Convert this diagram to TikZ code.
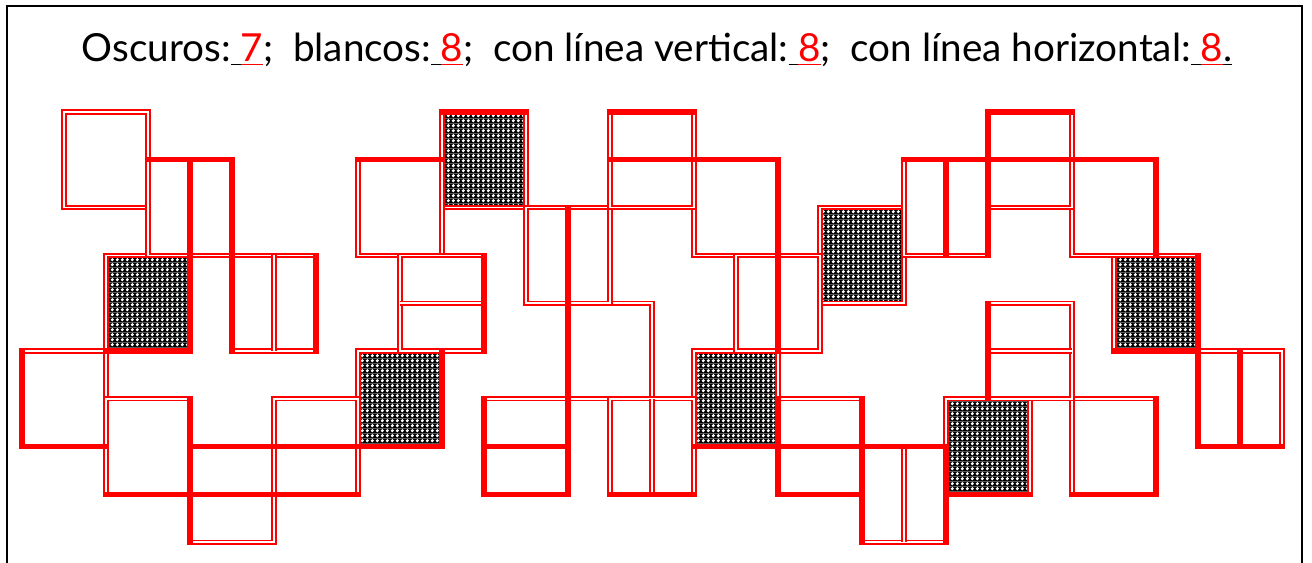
\documentclass[tikz,border=0pt]{standalone}
\usepackage{fontspec}
\setmainfont{Lato}
\usetikzlibrary{patterns.meta}
\newcommand{\resp}[1]{\underline{\ }\textcolor{red}{\underline{#1}}}
\tikzdeclarepattern{
  name=darkdots, type=colored,
  bottom left={(0pt,0pt)}, top right={(3.6pt,3.6pt)}, tile size={(3.6pt,3.6pt)},
  code={\fill[black] (0pt,0pt) rectangle (3.6pt,3.6pt); \fill[white] (1.8pt,1.8pt) circle (1.3pt);}
}
\tikzset{
  split/.style={draw=red, double=white, line width=1.35pt, double distance=1.1pt},
  tile/.style={split, rectangle, minimum width=63pt, minimum height=71.7pt,
               inner sep=0pt, outer sep=0pt},
  dark/.style={tile, pattern=darkdots},
  heavy/.style={draw=red, line width=3.8pt, line cap=rect},
  frame/.style={draw=black, line width=1.9pt},
}
\begin{document}
\begin{tikzpicture}[x=31.5pt, y=-35.85pt]
  \useasboundingbox[fill=white] (-0.5238,-2.3431) rectangle (30.7143,9.4351);
  \draw[frame] (-0.357,9.6) -- (-0.357,-2.218) -- (30.476,-2.218) -- (30.476,9.6);
  \node[font=\fontsize{29}{35}\selectfont, anchor=base] (title) at (15.12,-1.046)
    {Oscuros:\resp{7};\ \ blancos:\resp{8};\ \ con línea vertical:\resp{8};\ \ con línea horizontal:\resp{8}\underline{.}};
  % oscuros
  \node[dark] (o1) at (3,4) {};
  \node[dark] (o2) at (9,6) {};
  \node[dark] (o3) at (11,1) {};
  \node[dark] (o4) at (17,6) {};
  \node[dark] (o5) at (20,3) {};
  \node[dark] (o6) at (27,4) {};
  \node[dark] (o7) at (23,7) {};
  % blancos
  \node[tile] (b1) at (2,1) {};
  \node[tile] (b2) at (1,6) {};
  \node[tile] (b3) at (3,7) {};
  \node[tile] (b4) at (9,2) {};
  \node[tile] (b5) at (17,2) {};
  \node[tile] (b6) at (14,5) {};
  \node[tile] (b7) at (26,2) {};
  \node[tile] (b8) at (26,7) {};
  % linea vertical
  \node[tile] (v1) at (4,2) {};
  \node[tile] (v2) at (6,4) {};
  \node[tile] (v3) at (13,3) {};
  \node[tile] (v4) at (15,7) {};
  \node[tile] (v5) at (18,4) {};
  \node[tile] (v6) at (22,2) {};
  \node[tile] (v7) at (29,6) {};
  \node[tile] (v8) at (21,8) {};
  % linea horizontal
  \node[tile] (h1) at (5,8) {};
  \node[tile] (h2) at (7,7) {};
  \node[tile] (h3) at (10,4) {};
  \node[tile] (h4) at (15,1) {};
  \node[tile] (h5) at (12,7) {};
  \node[tile] (h6) at (24,1) {};
  \node[tile] (h7) at (24,5) {};
  \node[tile] (h8) at (19,7) {};
  % dividers
  \draw[split] (v1.north)--(v1.south); \draw[split] (v2.north)--(v2.south);
  \draw[split] (v3.north)--(v3.south); \draw[split] (v4.north)--(v4.south);
  \draw[split] (v5.north)--(v5.south); \draw[split] (v6.north)--(v6.south);
  \draw[split] (v7.north)--(v7.south); \draw[split] (v8.north)--(v8.south);
  \draw[split] (h1.west)--(h1.east); \draw[split] (h2.west)--(h2.east);
  \draw[split] (h3.west)--(h3.east); \draw[split] (h4.west)--(h4.east);
  \draw[split] (h5.west)--(h5.east); \draw[split] (h6.west)--(h6.east);
  \draw[split] (h7.west)--(h7.east); \draw[split] (h8.west)--(h8.east);
  % heavy edges
  \draw[heavy] (o1.north east)--(o1.south east)--(o1.south west);
  \draw[heavy] (o2.north east)--(o2.south east)--(o2.south west);
  \draw[heavy] (o3.north west)--(o3.north east);
  \draw[heavy] (o4.south west)--(o4.south east);
  \draw[heavy] (o6.north east)--(o6.south east)--(o6.south west);
  \draw[heavy] (o7.south west)--(o7.south east);
  \draw[heavy] (b2.north west)--(b2.south west)--(b2.south east);
  \draw[heavy] (b3.north east)--(b3.south east)--(b3.south west);
  \draw[heavy] (b4.north west)--(b4.north east);
  \draw[heavy] (b5.north west)--(b5.north east)--(b5.south east);
  \draw[heavy] (b6.north west)--(b6.south west);
  \draw[heavy] (b7.north west)--(b7.north east)--(b7.south east);
  \draw[heavy] (b8.north east)--(b8.south east)--(b8.south west);
  \draw[heavy] (v1.north west)--(v1.north east)--(v1.south east); \draw[heavy] (v1.north)--(v1.south);
  \draw[heavy] (v2.north west)--(v2.south west); \draw[heavy] (v2.north east)--(v2.south east);
  \draw[heavy] (v3.north)--(v3.south);
  \draw[heavy] (v4.south west)--(v4.south east);
  \draw[heavy] (v5.north)--(v5.south);
  \draw[heavy] (v6.north west)--(v6.north east)--(v6.south east); \draw[heavy] (v6.north)--(v6.south);
  \draw[heavy] (v7.north west)--(v7.south west)--(v7.south east); \draw[heavy] (v7.north)--(v7.south);
  \draw[heavy] (v8.south west)--(v8.north west)--(v8.north east)--(v8.south east);
  \draw[heavy] (h1.south west)--(h1.north west)--(h1.north east); \draw[heavy] (h1.west)--(h1.east);
  \draw[heavy] (h2.west)--(h2.east); \draw[heavy] (h2.south west)--(h2.south east);
  \draw[heavy] (h3.north east)--(h3.south east);
  \draw[heavy] (h4.north west)--(h4.north east); \draw[heavy] (h4.west)--(h4.east);
  \draw[heavy] (h5.north west)--(h5.south west)--(h5.south east)--(h5.north east); \draw[heavy] (h5.west)--(h5.east);
  \draw[heavy] (h6.south west)--(h6.north west)--(h6.north east); \draw[heavy] (h6.west)--(h6.east);
  \draw[heavy] (h7.north west)--(h7.south west);
  \draw[heavy] (h8.north west)--(h8.south west)--(h8.south east)--(h8.north east); \draw[heavy] (h8.west)--(h8.east);
\end{tikzpicture}
\end{document}
